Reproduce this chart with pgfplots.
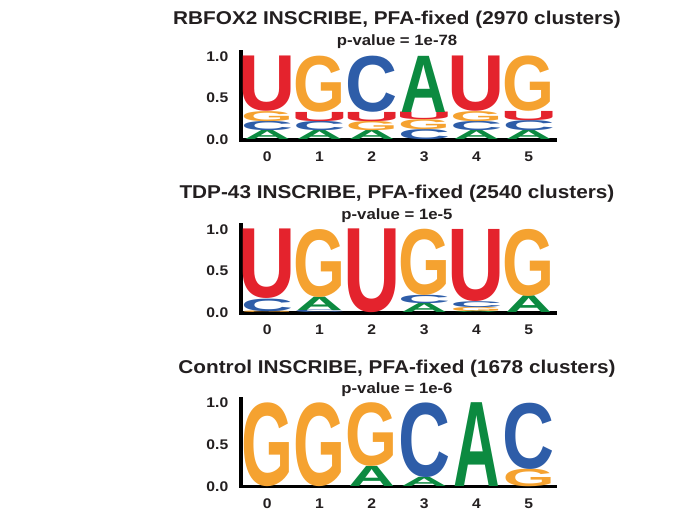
\documentclass[border=0pt]{standalone}
\usepackage{pgfplots}
\pgfplotsset{compat=1.18}
\usepackage{pgfplotstable}
\usepackage{graphicx}
\usepackage{fontspec}
\setmainfont{Liberation Sans}[FakeStretch=1.12]
\newfontfamily\logofont{Liberation Sans}

\definecolor{tgray}{RGB}{35,31,32}
\definecolor{colU}{RGB}{228,35,45}
\definecolor{colG}{RGB}{245,162,48}
\definecolor{colC}{RGB}{46,93,168}
\definecolor{colA}{RGB}{12,138,64}

% one unit of the y axis (height 66pt for 0..1.05)
\newlength\logounit
\setlength\logounit{62.857pt}
\newlength\letterht
% box widths per letter, so that the visible glyphs come out about equally wide
\newcommand\logoletter[3]{\textcolor{#2}{\resizebox*{#3}{\letterht}{\logofont\bfseries #1}}}
% code: 1 A, 2 C, 3 G, 4 U
\newcommand\logodraw[1]{%
  \ifcase#1\or \logoletter{A}{colA}{35pt}%
  \or \logoletter{C}{colC}{39pt}%
  \or \logoletter{G}{colG}{39pt}%
  \or \logoletter{U}{colU}{43pt}\fi}

% position, bottom of the letter, height, letter code (1 A, 2 C, 3 G, 4 U)
\pgfplotstableread{
x base h k
0 0.00 0.11 1
0 0.11 0.11 2
0 0.22 0.12 3
0 0.34 0.66 4
1 0.00 0.11 1
1 0.11 0.11 2
1 0.22 0.11 4
1 0.33 0.67 3
2 0.00 0.11 1
2 0.11 0.11 3
2 0.22 0.11 4
2 0.33 0.67 2
3 0.00 0.12 2
3 0.12 0.12 3
3 0.24 0.09 4
3 0.33 0.67 1
4 0.00 0.11 1
4 0.11 0.11 2
4 0.22 0.12 3
4 0.34 0.66 4
5 0.00 0.11 1
5 0.11 0.12 2
5 0.23 0.11 4
5 0.34 0.66 3
}\rbfox

\pgfplotstableread{
x base h k
0 0.00 0.02 3
0 0.02 0.15 2
0 0.17 0.83 4
1 0.00 0.03 2
1 0.03 0.16 1
1 0.19 0.81 3
2 0.00 1.00 4
3 0.00 0.11 1
3 0.11 0.10 2
3 0.21 0.79 3
4 0.00 0.02 1
4 0.02 0.05 3
4 0.07 0.07 2
4 0.14 0.86 4
5 0.00 0.20 1
5 0.20 0.80 3
}\tdp

\pgfplotstableread{
x base h k
0 0.00 1.00 3
1 0.00 1.00 3
2 0.00 0.24 1
2 0.24 0.76 3
3 0.00 0.11 1
3 0.11 0.89 2
4 0.00 1.00 1
5 0.00 0.21 3
5 0.21 0.79 2
}\control

\pgfplotsset{
  logo/.style={
    scale only axis, width=235.5pt, height=66pt,
    xmin=-0.5, xmax=5.5, ymin=0, ymax=1.05,
    axis x line=bottom, axis y line=left,
    axis line style={-, line width=2.8pt, line cap=rect, black},
    xtick={0,1,2,3,4,5}, ytick={0,0.5,1},
    major tick length=0pt,
    /pgf/number format/assume math mode=true,
    yticklabel style={/pgf/number format/fixed, /pgf/number format/fixed zerofill, /pgf/number format/precision=1},
    ticklabel style={font=\fontsize{10.5}{12}\selectfont\bfseries, text=tgray},
    xticklabel style={yshift=-5.5pt},
    yticklabel style={xshift=-6pt},
    clip=false,
  },
  letters/.style={
    scatter, only marks, mark=*, mark size=0pt,
    mark options={draw=none, fill=none},
    visualization depends on={\thisrow{h}\as\hgt},
    visualization depends on={\thisrow{k}\as\code},
    scatter/@pre marker code/.code={%
      \pgfmathsetlength\letterht{\hgt*\logounit}%
      \pgfmathtruncatemacro\kk{\code}%
      \pgftext[bottom]{\logodraw{\kk}}%
    },
    scatter/@post marker code/.code={},
  },
}

\begin{document}
\begin{tikzpicture}
\useasboundingbox (0,0) rectangle (517.5pt,-390pt);

\begin{axis}[logo, anchor=south west, at={(180.75pt,-105pt)}]
\addplot[letters] table[x=x, y=base] {\rbfox};
\end{axis}

\begin{axis}[logo, anchor=south west, at={(180.75pt,-234.75pt)}]
\addplot[letters] table[x=x, y=base] {\tdp};
\end{axis}

\begin{axis}[logo, anchor=south west, at={(180.75pt,-364.9pt)}]
\addplot[letters] table[x=x, y=base] {\control};
\end{axis}

\begin{scope}[every node/.style={anchor=base, inner sep=0pt, text=tgray}]
\node[font=\fontsize{13.9}{16}\selectfont\bfseries] at (297.75pt,-18.2pt) {RBFOX2 INSCRIBE, PFA-fixed (2970 clusters)};
\node[font=\fontsize{11.2}{13}\selectfont\bfseries] at (297.75pt,-34.3pt) {p-value = 1e-78};
\node[font=\fontsize{13.9}{16}\selectfont\bfseries] at (297.75pt,-148.7pt) {TDP-43 INSCRIBE, PFA-fixed (2540 clusters)};
\node[font=\fontsize{11.2}{13}\selectfont\bfseries] at (297.75pt,-165pt) {p-value = 1e-5};
\node[font=\fontsize{13.9}{16}\selectfont\bfseries] at (297.75pt,-280pt) {Control INSCRIBE, PFA-fixed (1678 clusters)};
\node[font=\fontsize{11.2}{13}\selectfont\bfseries] at (297.75pt,-295pt) {p-value = 1e-6};
\end{scope}
\end{tikzpicture}
\end{document}
